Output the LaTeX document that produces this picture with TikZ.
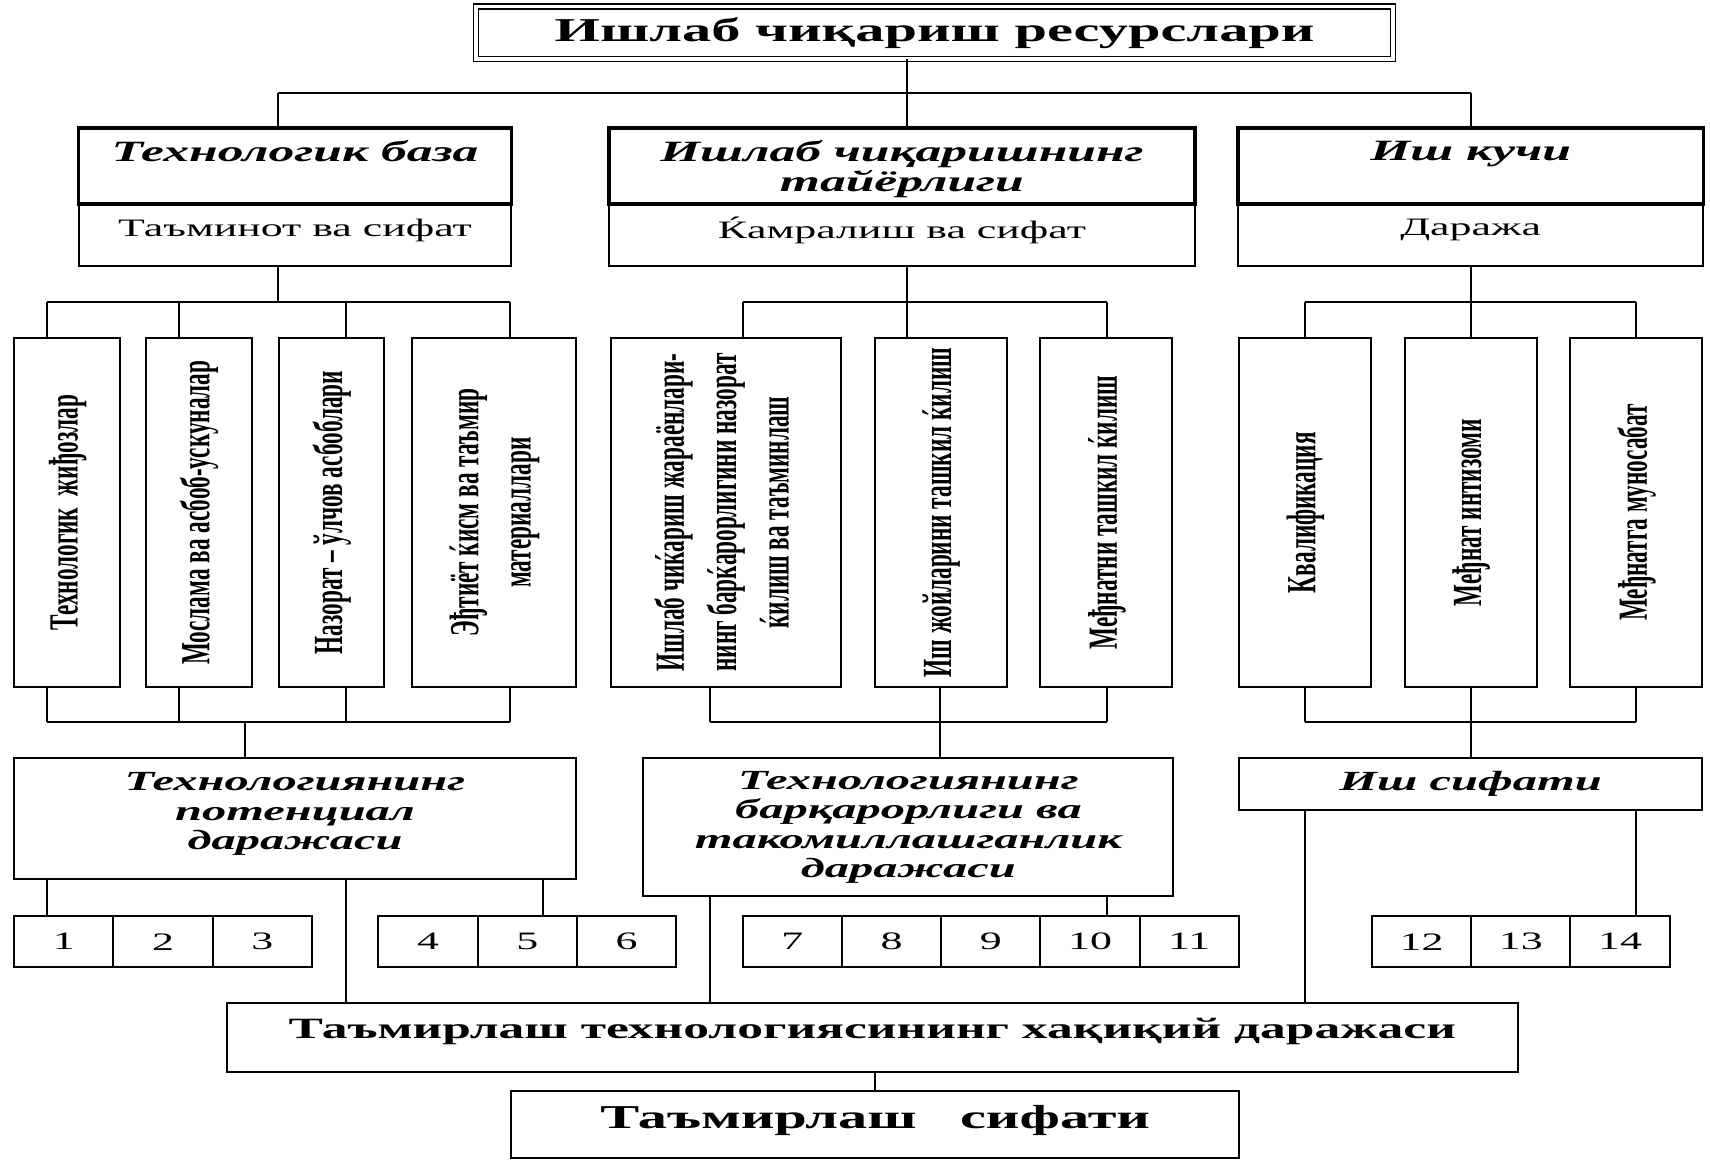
\documentclass[tikz,border=0pt]{standalone}
\usepackage{fontspec}
\setmainfont{Liberation Serif}
\newfontfamily\hfont[FakeStretch=1.75]{Liberation Serif}
\newfontfamily\vfont[FakeStretch=0.56]{Liberation Serif}
\usetikzlibrary{positioning,calc}

\newcommand\fTitle{\hfont\bfseries\fontsize{15.3}{18}\selectfont}
\newcommand\fHead{\hfont\bfseries\itshape\fontsize{13.5}{14}\selectfont}
\newcommand\fGroup{\hfont\bfseries\itshape\fontsize{12.7}{13.5}\selectfont}
\newcommand\fSub{\hfont\fontsize{11.5}{14}\selectfont}
\newcommand\fFactor{\vfont\bfseries\fontsize{19}{24}\selectfont}
\newcommand\fReal{\hfont\bfseries\fontsize{13.5}{16}\selectfont}
\newcommand\fQuality{\hfont\bfseries\fontsize{15.3}{19}\selectfont}
\newcommand\vtext[1]{\rotatebox{90}{\begin{tabular}{@{}c@{}}#1\end{tabular}}}

\begin{document}
\begin{tikzpicture}[x=0.5pt, y=-0.5pt, line width=0.9pt,
    box/.style 2 args={draw, inner sep=0pt, outer sep=0pt, align=center,
      minimum width=#1*0.5pt, minimum height=#2*0.5pt},
    headbox/.style 2 args={box={#1}{#2}, line width=1.8pt, font=\fHead, text depth=-0.8pt},
    subbox/.style 2 args={box={#1}{#2}, font=\fSub, text depth=7pt},
    factorbox/.style={box={#1}{320}, font=\fFactor},
    groupbox/.style 2 args={box={#1}{#2}, font=\fGroup},
    cell/.style={box={91}{47}, font=\fSub}]
  \useasboundingbox (0,0) rectangle (1568,1071);

  % resources
  \node[box={841}{48}, double, double distance=1.6pt, line width=0.7pt, font=\fTitle] (top) at (857,30) {Ишлаб чиқариш ресурслари};

  % three bases
  \node[headbox={397}{70}] (h_1) at (270.5,152) {Технологик база\\\strut};
  \node[subbox={397}{57}, below=0pt of h_1] (s_1) {Таъминот ва сифат};
  \node[headbox={538}{70}] (h_2) at (827,152) {Ишлаб чиқаришнинг\\тайёрлиги\strut};
  \node[subbox={538}{57}, below=0pt of h_2] (s_2) {Ќамралиш ва сифат};
  \node[headbox={427}{70}] (h_3) at (1348.5,152) {Иш кучи\\\strut};
  \node[subbox={427}{57}, below=0pt of h_3] (s_3) {Даража};

  % factors
  \node[factorbox=97] (f_1) at (61.5,470) {\vtext{Технологик~~жиђозлар}};
  \node[factorbox=97] (f_2) at (182.5,470) {\vtext{Мослама ва асбоб-ускуналар}};
  \node[factorbox=96] (f_3) at (304,470) {\vtext{Назорат – ўлчов асбоблари}};
  \node[factorbox=150] (f_4) at (453,470) {\vtext{Эђтиёт ќисм ва таъмир\\материаллари}};
  \node[factorbox=211] (f_5) at (665.5,470) {\vtext{Ишлаб чиќариш жараёнлари-\\нинг барќарорлигини назорат\\ќилиш ва таъминлаш}};
  \node[factorbox=121] (f_6) at (862.5,470) {\vtext{Иш жойларини ташкил ќилиш}};
  \node[factorbox=121] (f_7) at (1014.5,470) {\vtext{Међнатни ташкил ќилиш}};
  \node[factorbox=121] (f_8) at (1196.5,470) {\vtext{Квалификация}};
  \node[factorbox=121] (f_9) at (1348.5,470) {\vtext{Међнат интизоми}};
  \node[factorbox=121] (f_10) at (1500.5,470) {\vtext{Међнатга муносабат}};

  % levels
  \node[groupbox={515}{111}, text depth=6.8pt] (g_1) at (270.5,750.5) {Технологиянинг\\потенциал\\даражаси};
  \node[groupbox={486}{127}] (g_2) at (833,758.5) {Технологиянинг\\барқарорлиги ва\\такомиллашганлик\\даражаси};
  \node[groupbox={425}{48}] (g_3) at (1348.5,719) {Иш сифати};

  % numbered cells
  \foreach \n/\x in {1/58.5,2/149.5,3/240.5,4/392.5,5/483.5,6/574.5,7/726.5,8/817.5,9/908.5,10/999.5,11/1090.5,12/1303.5,13/1394.5,14/1485.5}
    \node[cell] (k_\n) at (\x,863.5) {\n};

  \node[box={1184}{63}, font=\fReal, text depth=9pt] (real) at (800,951.5) {Таъмирлаш технологиясининг хақиқий даражаси};
  \node[box={667}{62}, font=\fQuality, text depth=7pt] (quality) at (802.5,1031) {Таъмирлаш\hspace{1.3em}сифати};

  % resources -> bases
  \coordinate (t_1) at (255,85);
  \coordinate (t_2) at (832,85);
  \coordinate (t_3) at (1349,85);
  \draw (top.south -| t_2) -- (t_2);
  \draw (t_1) -- (t_3);
  \foreach \i in {1,2,3}
    \draw (t_\i) -- (t_\i |- h_\i.north);

  % bases -> factors
  \foreach \x/\i in {43/1,164/2,317/3,468/4,681/5,832/6,1015/7,1197/8,1349/9,1500/10} {
    \coordinate (u_\i) at (\x,277);
    \draw (u_\i) -- (u_\i |- f_\i.north);
  }
  \draw (u_1) -- (u_4);
  \draw (u_5) -- (u_7);
  \draw (u_8) -- (u_10);
  \draw (s_1.south -| t_1) -- (t_1 |- u_1);
  \draw (s_2.south -| t_2) -- (t_2 |- u_5);
  \draw (s_3.south -| t_3) -- (t_3 |- u_8);

  % factors -> levels
  \foreach \x/\i in {43/1,164/2,317/3,468/4,651/5,862/6,1015/7,1197/8,1349/9,1500/10} {
    \coordinate (v_\i) at (\x,662);
    \draw (v_\i |- f_\i.south) -- (v_\i);
  }
  \draw (v_1) -- (v_4);
  \draw (v_5) -- (v_7);
  \draw (v_8) -- (v_10);
  \coordinate (o_1) at (225,662);
  \draw (o_1) -- (o_1 |- g_1.north);
  \draw (v_6) -- (v_6 |- g_2.north);
  \draw (v_9) -- (v_9 |- g_3.north);

  % levels -> cells and real level
  \coordinate (c_5) at (498,0);
  \draw (g_1.south -| v_1) -- (v_1 |- k_1.north);
  \draw (g_1.south -| c_5) -- (c_5 |- k_5.north);
  \draw (g_1.south -| v_3) -- (v_3 |- real.north);
  \draw (g_2.south -| v_5) -- (v_5 |- real.north);
  \draw (g_2.south -| v_7) -- (v_7 |- k_10.north);
  \draw (g_3.south -| v_8) -- (v_8 |- real.north);
  \draw (g_3.south -| v_10) -- (v_10 |- k_14.north);
  \draw (quality.north |- real.south) -- (quality.north);
\end{tikzpicture}
\end{document}
